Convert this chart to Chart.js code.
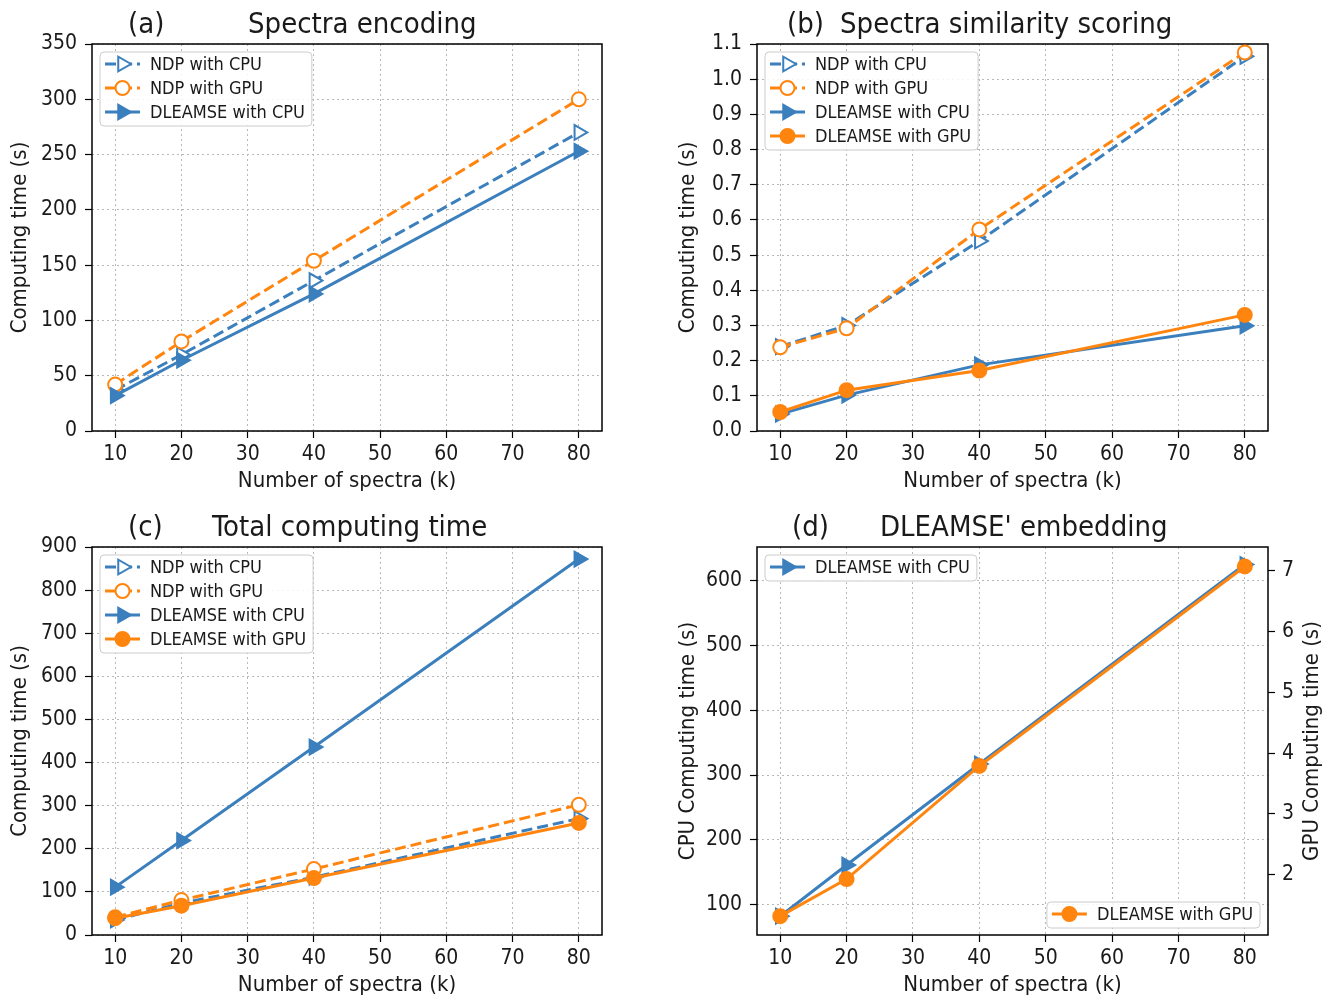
<!DOCTYPE html>
<html lang="en">
<head>
<meta charset="UTF-8">
<title>DLEAMSE computing time</title>
<script src="https://cdn.jsdelivr.net/npm/chart.js@4.4.1/dist/chart.umd.min.js"></script>
<style>
  body { margin: 0; background: #fff; }
  #fig { position: relative; width: 1336px; height: 1000px; }
  #fig canvas { position: absolute; }
</style>
</head>
<body>
<div id="fig">
  <canvas id="panelA" width="668" height="500" style="left:0;top:0"></canvas>
  <canvas id="panelB" width="668" height="500" style="left:668px;top:0"></canvas>
  <canvas id="panelC" width="668" height="500" style="left:0;top:500px"></canvas>
  <canvas id="panelD" width="668" height="500" style="left:668px;top:500px"></canvas>
</div>
<script>
// number of spectra (thousands) on every x axis
const spectraK = [10, 20, 40, 80];
const xTicks = [10, 20, 30, 40, 50, 60, 70, 80];

// (a) spectra encoding, seconds
const encNdpCpu = [37, 69, 136, 270];
const encNdpGpu = [42, 81, 154, 300];
const encDleamseCpu = [32, 64, 124, 253];
const encTicks = [0, 50, 100, 150, 200, 250, 300, 350];

// (b) spectra similarity scoring, seconds
const simNdpCpu = [0.24, 0.30, 0.54, 1.065];
const simNdpGpu = [0.238, 0.292, 0.573, 1.076];
const simDleamseCpu = [0.048, 0.102, 0.188, 0.299];
const simDleamseGpu = [0.054, 0.116, 0.172, 0.330];
const simTicks = [0, 0.1, 0.2, 0.3, 0.4, 0.5, 0.6, 0.7, 0.8, 0.9, 1.0, 1.1];

// (c) total computing time, seconds
const totNdpCpu = [35, 74, 134, 270];
const totNdpGpu = [41, 81, 153, 302];
const totDleamseCpu = [111, 219, 436, 872];
const totDleamseGpu = [39, 68, 132, 260];
const totTicks = [0, 100, 200, 300, 400, 500, 600, 700, 800, 900];

// (d) DLEAMSE embedding, CPU on left axis, GPU on right axis
const embCpu = [82, 161, 317, 625];
const embGpu = [1.32, 1.93, 3.79, 7.07];
const embCpuTicks = [100, 200, 300, 400, 500, 600];
const embGpuTicks = [2, 3, 4, 5, 6, 7];

const FONT = '"DejaVu Sans Condensed", "DejaVu Sans", sans-serif';
const BLUE = '#3b7fbd';
const ORANGE = '#ff850f';
const INK = '#1a1a1a';

function series(label, values, color, dashed, marker, filled, axis) {
  const tri = marker === 'tri';
  return {
    label: label,
    data: spectraK.map((x, i) => ({ x: x, y: values[i] })),
    yAxisID: axis || 'y',
    borderColor: color,
    borderWidth: 3,
    borderDash: dashed ? [11, 5] : [],
    pointStyle: tri ? 'triangle' : 'circle',
    pointRotation: tri ? 90 : 0,
    pointRadius: tri ? 8.5 : 7,
    pointHoverRadius: tri ? 8.5 : 7,
    pointBorderWidth: 2,
    pointBorderColor: color,
    pointBackgroundColor: filled ? color : '#fff',
    fill: false,
    tension: 0
  };
}

function fixedTicks(arr) {
  return s => { s.ticks = arr.map(v => ({ value: v })); };
}

const gridStyle = {
  color: '#b8b8b8', lineWidth: 1,
  tickLength: 7, tickColor: '#000', tickWidth: 1.2, tickBorderDash: []
};

function xScale(height, titlePad) {
  return {
    type: 'linear', min: 6.5, max: 83.5,
    afterBuildTicks: fixedTicks(xTicks),
    afterFit: s => { s.height = height; },
    ticks: { color: INK, font: { family: FONT, size: 21 }, padding: 4 },
    grid: gridStyle,
    border: { display: false, dash: [2, 3] },
    title: { display: true, text: 'Number of spectra (k)', color: INK,
             font: { family: FONT, size: 22 }, padding: { top: 0, bottom: titlePad } }
  };
}

function yScale(min, max, ticks, width, title, fmt) {
  return {
    type: 'linear', position: 'left', min: min, max: max,
    afterBuildTicks: fixedTicks(ticks),
    afterFit: s => { s.width = width; },
    ticks: { color: INK, font: { family: FONT, size: 21 }, padding: 8,
             callback: fmt || (v => String(v)) },
    grid: gridStyle,
    border: { display: false, dash: [2, 3] },
    title: { display: true, text: title, color: INK,
             font: { family: FONT, size: 22 }, padding: { top: 7, bottom: 0 } }
  };
}

function drawLegend(chart, lg) {
  const { ctx, chartArea: a } = chart;
  const sets = lg.items.map(i => chart.data.datasets[i]);
  ctx.save();
  ctx.font = '18px ' + FONT;
  const textW = Math.max(...sets.map(d => ctx.measureText(d.label).width));
  const w = 5 + 35 + 10 + textW + 7;
  const h = sets.length * 24 + 2;
  const x0 = lg.corner === 'lr' ? a.right - 8 - w : a.left + 8;
  const y0 = lg.corner === 'lr' ? a.bottom - 7 - h : a.top + 8;
  ctx.beginPath();
  ctx.roundRect(x0, y0, w, h, 4);
  ctx.fillStyle = 'rgba(255,255,255,0.85)';
  ctx.fill();
  ctx.strokeStyle = '#cccccc';
  ctx.lineWidth = 1;
  ctx.stroke();
  sets.forEach((d, k) => {
    const cy = y0 + 12 + k * 24;
    const hx = x0 + 5;
    ctx.beginPath();
    ctx.setLineDash(d.borderDash);
    ctx.strokeStyle = d.borderColor;
    ctx.lineWidth = d.borderWidth;
    ctx.moveTo(hx, cy);
    ctx.lineTo(hx + 35, cy);
    ctx.stroke();
    ctx.setLineDash([]);
    const mx = hx + 17.5, r = d.pointRadius;
    ctx.beginPath();
    if (d.pointStyle === 'triangle') {
      ctx.moveTo(mx + r, cy);
      ctx.lineTo(mx - r / 2, cy - r * 0.866);
      ctx.lineTo(mx - r / 2, cy + r * 0.866);
      ctx.closePath();
    } else {
      ctx.arc(mx, cy, r, 0, Math.PI * 2);
    }
    ctx.fillStyle = d.pointBackgroundColor;
    ctx.fill();
    ctx.lineWidth = d.pointBorderWidth;
    ctx.strokeStyle = d.pointBorderColor;
    ctx.stroke();
    ctx.fillStyle = INK;
    ctx.textBaseline = 'middle';
    ctx.textAlign = 'left';
    ctx.fillText(d.label, hx + 45, cy + 1);
  });
  ctx.restore();
}

const panelDecor = {
  id: 'panelDecor',
  beforeDatasetsDraw(chart) {
    const { ctx, chartArea: a } = chart;
    ctx.save();
    ctx.strokeStyle = '#000';
    ctx.lineWidth = 1.5;
    ctx.strokeRect(a.left, a.top, a.right - a.left, a.bottom - a.top);
    ctx.restore();
  },
  afterDraw(chart, args, opts) {
    const { ctx, chartArea: a } = chart;
    ctx.save();
    ctx.fillStyle = INK;
    ctx.textAlign = 'left';
    ctx.textBaseline = 'alphabetic';
    ctx.font = '29px ' + FONT;
    ctx.fillText(opts.tag, a.left + opts.tagX, a.top - 11);
    ctx.fillText(opts.title, a.left + opts.titleX, a.top - 11);
    if (opts.rightTitle) {
      ctx.font = '22px ' + FONT;
      ctx.translate(opts.rightTitleX, (a.top + a.bottom) / 2);
      ctx.rotate(-Math.PI / 2);
      ctx.textAlign = 'center';
      ctx.textBaseline = 'middle';
      ctx.fillText(opts.rightTitle, 0, 0);
    }
    ctx.restore();
    (opts.legends || []).forEach(lg => drawLegend(chart, lg));
  }
};

function makeChart(id, datasets, scales, padding, decor) {
  // later series on top, like the original plotting order
  datasets.forEach((d, i) => { d.order = -i; });
  return new Chart(document.getElementById(id), {
    type: 'line',
    data: { datasets: datasets },
    options: {
      responsive: false,
      devicePixelRatio: 1,
      animation: false,
      layout: { padding: padding },
      scales: scales,
      plugins: { legend: { display: false }, tooltip: { enabled: false }, title: { display: false },
                 panelDecor: decor }
    },
    plugins: [panelDecor]
  });
}

makeChart('panelA', [
  series('NDP with CPU', encNdpCpu, BLUE, true, 'tri', false),
  series('NDP with GPU', encNdpGpu, ORANGE, true, 'circle', false),
  series('DLEAMSE with CPU', encDleamseCpu, BLUE, false, 'tri', true)
], {
  x: xScale(69, 6),
  y: yScale(0, 350, encTicks, 92, 'Computing time (s)')
}, { left: 0, right: 66, top: 44, bottom: 0 },
{ tag: '(a)', tagX: 36, title: 'Spectra encoding', titleX: 156,
  legends: [{ items: [0, 1, 2], corner: 'ul' }] });

makeChart('panelB', [
  series('NDP with CPU', simNdpCpu, BLUE, true, 'tri', false),
  series('NDP with GPU', simNdpGpu, ORANGE, true, 'circle', false),
  series('DLEAMSE with CPU', simDleamseCpu, BLUE, false, 'tri', true),
  series('DLEAMSE with GPU', simDleamseGpu, ORANGE, false, 'circle', true)
], {
  x: xScale(69, 6),
  y: yScale(0, 1.1, simTicks, 89, 'Computing time (s)', v => v.toFixed(1))
}, { left: 0, right: 68, top: 44, bottom: 0 },
{ tag: '(b)', tagX: 30, title: 'Spectra similarity scoring', titleX: 83,
  legends: [{ items: [0, 1, 2, 3], corner: 'ul' }] });

makeChart('panelC', [
  series('NDP with CPU', totNdpCpu, BLUE, true, 'tri', false),
  series('NDP with GPU', totNdpGpu, ORANGE, true, 'circle', false),
  series('DLEAMSE with CPU', totDleamseCpu, BLUE, false, 'tri', true),
  series('DLEAMSE with GPU', totDleamseGpu, ORANGE, false, 'circle', true)
], {
  x: xScale(65, 2),
  y: yScale(0, 900, totTicks, 92, 'Computing time (s)')
}, { left: 0, right: 66, top: 47, bottom: 0 },
{ tag: '(c)', tagX: 36, title: 'Total computing time', titleX: 120,
  legends: [{ items: [0, 1, 2, 3], corner: 'ul' }] });

const gpuAxis = {
  type: 'linear', position: 'right', min: 1.01, max: 7.39,
  afterBuildTicks: fixedTicks(embGpuTicks),
  afterFit: s => { s.width = 68; },
  ticks: { color: INK, font: { family: FONT, size: 21 }, padding: 7 },
  grid: Object.assign({}, gridStyle, { drawOnChartArea: false }),
  border: { display: false },
  title: { display: false }
};

makeChart('panelD', [
  series('DLEAMSE with CPU', embCpu, BLUE, false, 'tri', true, 'y'),
  series('DLEAMSE with GPU', embGpu, ORANGE, false, 'circle', true, 'y2')
], {
  x: xScale(65, 2),
  y: yScale(53, 652, embCpuTicks, 89, 'CPU Computing time (s)'),
  y2: gpuAxis
}, { left: 0, right: 0, top: 47, bottom: 0 },
{ tag: '(d)', tagX: 35, title: "DLEAMSE' embedding", titleX: 123,
  rightTitle: 'GPU Computing time (s)', rightTitleX: 644,
  legends: [{ items: [0], corner: 'ul' }, { items: [1], corner: 'lr' }] });
</script>
</body>
</html>
